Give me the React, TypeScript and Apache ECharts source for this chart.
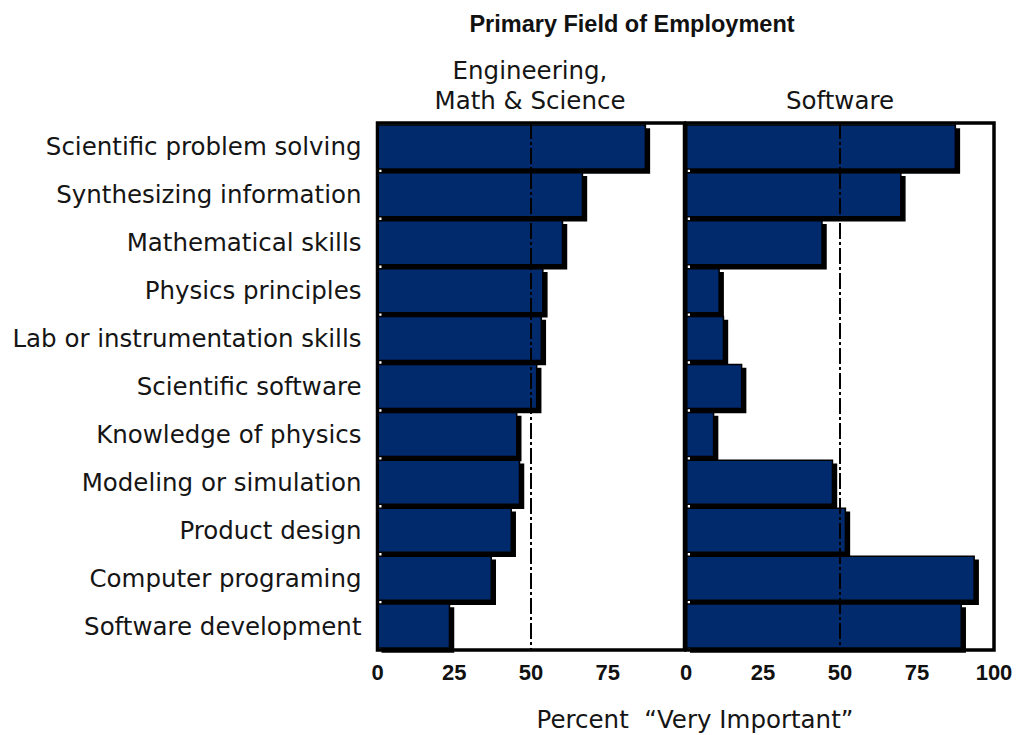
import React, { useEffect, useRef } from "react";
import * as echarts from "echarts";

const categories = [
  "Scientific problem solving",
  "Synthesizing information",
  "Mathematical skills",
  "Physics principles",
  "Lab or instrumentation skills",
  "Scientific software",
  "Knowledge of physics",
  "Modeling or simulation",
  "Product design",
  "Computer programing",
  "Software development",
];
const emsValues = [87.5, 67, 60.5, 54.1, 53.6, 52.1, 45.6, 46.5, 43.8, 37.3, 23.7];
const softwareValues = [87.7, 70, 44.4, 11, 12.4, 18.3, 9.2, 47.8, 52, 93.8, 89.6];
const xTickMin = 0;
const xTickMax = 100;
const xTickInterval = 25;
const referenceValue = 50;
const chartTitle = "Primary Field of Employment";
const panelTitleEms = ["Engineering,", "Math & Science"];
const panelTitleSoftware = "Software";
const xAxisTitle = "Percent  \u201CVery Important\u201D";

const LABEL_FONT = '"DejaVu Sans", "Liberation Sans", sans-serif';
const BOLD_FONT = '"Liberation Sans", Arial, sans-serif';
const BAR_COLOR = "#032a6c";

export default function App() {
  const ref = useRef<HTMLDivElement>(null);

  useEffect(() => {
    if (!ref.current) return;
    const chart = echarts.init(ref.current, undefined, { renderer: "svg" });

    const grids = [
      { left: 377.5, top: 123, width: 307, height: 527 },
      { left: 686, top: 123, width: 308, height: 527 },
    ].map((g) => ({
      ...g,
      show: true,
      borderColor: "#000",
      borderWidth: 3.5,
      backgroundColor: "#fff",
      containLabel: false,
    }));

    const xAxis = [0, 1].map((i) => ({
      type: "value",
      gridIndex: i,
      min: xTickMin,
      max: xTickMax,
      interval: xTickInterval,
      axisLine: { show: false },
      axisTick: { show: false },
      splitLine: { show: false },
      axisLabel: {
        show: true,
        showMaxLabel: i === 1,
        margin: 11,
        color: "#111",
        fontSize: 22,
        fontWeight: "bold",
        fontFamily: BOLD_FONT,
      },
    }));

    const yAxis = [0, 1].map((i) => ({
      type: "category",
      gridIndex: i,
      inverse: true,
      data: categories,
      axisLine: { show: false },
      axisTick: { show: false },
      splitLine: { show: false },
      axisLabel: {
        show: i === 0,
        margin: 16,
        color: "#151515",
        fontSize: 24.5,
        fontFamily: LABEL_FONT,
      },
    }));

    const makeSeries = (values: number[], idx: number) => ({
      type: "bar",
      xAxisIndex: idx,
      yAxisIndex: idx,
      data: values,
      barCategoryGap: "5%",
      itemStyle: {
        color: BAR_COLOR,
        borderColor: "#000",
        borderWidth: 1.5,
        shadowColor: "#000",
        shadowBlur: 0,
        shadowOffsetX: 4,
        shadowOffsetY: 4,
      },
      emphasis: { disabled: true },
      markLine: {
        silent: true,
        symbol: ["none", "none"],
        label: { show: false },
        lineStyle: { color: "#000", width: 2, type: [16, 3, 3, 3] },
        data: [{ xAxis: referenceValue }],
        z: 10,
      },
    });

    chart.setOption({
      animation: false,
      title: {
        text: chartTitle,
        left: 627,
        top: 7,
        textAlign: "center",
        textStyle: {
          fontSize: 23.5,
          fontWeight: "bold",
          fontFamily: BOLD_FONT,
          color: "#111",
        },
      },
      grid: grids,
      xAxis,
      yAxis,
      series: [makeSeries(emsValues, 0), makeSeries(softwareValues, 1)],
      graphic: [
        {
          type: "text",
          x: 530,
          y: 70,
          style: {
            text: panelTitleEms[0],
            font: `24.5px ${LABEL_FONT}`,
            fill: "#151515",
            textAlign: "center",
            textVerticalAlign: "middle",
          },
        },
        {
          type: "text",
          x: 530,
          y: 100,
          style: {
            text: panelTitleEms[1],
            font: `24.5px ${LABEL_FONT}`,
            fill: "#151515",
            textAlign: "center",
            textVerticalAlign: "middle",
          },
        },
        {
          type: "text",
          x: 840,
          y: 100,
          style: {
            text: panelTitleSoftware,
            font: `24.5px ${LABEL_FONT}`,
            fill: "#151515",
            textAlign: "center",
            textVerticalAlign: "middle",
          },
        },
        {
          type: "text",
          x: 695,
          y: 719,
          style: {
            text: xAxisTitle,
            font: `24.5px ${LABEL_FONT}`,
            fill: "#151515",
            textAlign: "center",
            textVerticalAlign: "middle",
          },
        },
      ],
    });

    return () => chart.dispose();
  }, []);

  return (
    <div
      ref={ref}
      style={{ position: "fixed", left: 0, top: 0, width: 1018, height: 735, background: "#fff" }}
    />
  );
}
